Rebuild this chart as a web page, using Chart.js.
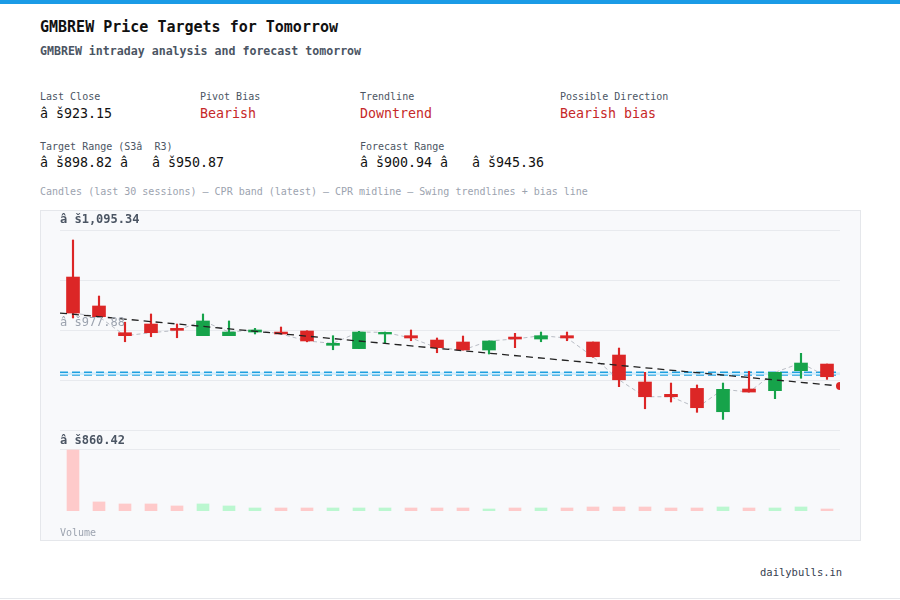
<!DOCTYPE html>
<html><head><meta charset="utf-8">
<script src="https://cdn.jsdelivr.net/npm/chart.js@4"></script>
<style>
body{margin:0;background:#fff;font-family:"DejaVu Sans Mono",monospace;width:900px;height:600px;position:relative;overflow:hidden}
.t{position:absolute;white-space:pre}
.lab{font-size:10px;color:#4b5563}
.val{font-size:13.3px;color:#111}
.red{color:#c62828}
</style></head><body>
<div style="position:absolute;left:0;top:0;width:900px;height:4px;background:#1a9be6"></div>
<div class="t" style="left:40px;top:18px;font-size:15px;font-weight:bold;color:#111">GMBREW Price Targets for Tomorrow</div>
<div class="t" style="left:40px;top:44px;font-size:11.6px;font-weight:bold;color:#4b5563">GMBREW intraday analysis and forecast tomorrow</div>
<div class="t lab" style="left:40px;top:91px">Last Close</div>
<div class="t val" style="left:40px;top:106px">â š923.15</div>
<div class="t lab" style="left:200px;top:91px">Pivot Bias</div>
<div class="t val red" style="left:200px;top:106px">Bearish</div>
<div class="t lab" style="left:360px;top:91px">Trendline</div>
<div class="t val red" style="left:360px;top:106px">Downtrend</div>
<div class="t lab" style="left:560px;top:91px">Possible Direction</div>
<div class="t val red" style="left:560px;top:106px">Bearish bias</div>
<div class="t lab" style="left:40px;top:141px">Target Range (S3â  R3)</div>
<div class="t val" style="left:40px;top:155px">â š898.82 â   â š950.87</div>
<div class="t lab" style="left:360px;top:141px">Forecast Range</div>
<div class="t val" style="left:360px;top:155px">â š900.94 â   â š945.36</div>
<div class="t" style="left:40px;top:186px;font-size:10px;color:#9ca3af">Candles (last 30 sessions) – CPR band (latest) – CPR midline – Swing trendlines + bias line</div>
<div style="position:absolute;left:40px;top:210px;width:819px;height:329px;border:1px solid #e5e7eb;background:#f8f9fb"></div>
<canvas id="c" style="position:absolute;left:40px;top:210px;width:820px;height:330px"></canvas>
<div class="t" style="left:60px;top:212px;font-size:12px;font-weight:bold;color:#4b5563">â š1,095.34</div>
<div class="t" style="left:60px;top:315px;font-size:12px;color:#9ca3af">â š977.88</div>
<div class="t" style="left:60px;top:433px;font-size:12px;font-weight:bold;color:#4b5563">â š860.42</div>
<div class="t" style="left:60px;top:527px;font-size:10px;color:#9ca3af">Volume</div>
<div class="t" style="left:760px;top:566px;font-size:10.5px;color:#374151">dailybulls.in</div>
<div style="position:absolute;left:0;top:598px;width:900px;height:1px;background:#e5e7eb"></div>
<script>
const labels=Array.from({length:30},(_,i)=>'S'+(i+1));
const opens =[1040.1,1006.1,974.7,984.9,979.8,971.2,971.2,975.5,975.5,976.7,959.9,956.0,973.2,971.2,966.1,963.8,954.4,969.6,967.3,971.2,963.8,948.5,916.8,902.3,909.3,881.9,908.6,906.6,930.1,937.9];
const closes=[997.8,993.5,971.2,974.7,977.5,988.5,975.5,977.9,973.2,965.0,962.2,975.5,975.1,968.5,957.1,954.4,965.0,967.3,971.2,968.5,946.5,919.4,899.5,899.5,886.6,908.2,905.0,928.2,939.1,923.0];
const highs =[1083.6,1017.8,987.0,996.7,984.9,996.7,988.5,979.8,981.4,977.0,971.2,976.3,975.5,977.9,968.5,970.8,965.0,974.0,975.5,975.5,963.8,956.7,928.2,915.6,913.3,915.6,929.4,928.2,950.5,937.9];
const lows  =[992.0,992.8,964.1,970.0,968.8,971.2,971.2,973.2,973.2,964.0,954.7,956.0,962.6,965.3,951.2,954.4,949.7,957.1,964.1,965.3,945.8,911.3,885.4,893.3,881.2,872.9,905.0,897.2,921.2,919.9];
const volumes=[60.7,9,7,7,5,7,5,3,3,3,3,3,3,3,3,3,2,3,3,3,4,4,4,3,3,4,3,3,4,2];
const cprTop=928.2, cprBottom=924.9;
const trendStart=997.8, trendEnd=912.1;
const up=opens.map((o,i)=>closes[i]>=o);
const cCol=up.map(u=>u?'#16a34a':'#dc2626');
const vCol=up.map(u=>u?'#bbf7d0':'#fecaca');
const full=[-0.5,29.5];
new Chart(document.getElementById('c'),{
 data:{labels,datasets:[
  {type:'line',xAxisID:'x2',yAxisID:'y',data:full.map(x=>({x,y:cprTop})),borderColor:'#1ea0e0',borderWidth:1.5,borderDash:[8,4],pointRadius:0,fill:'+1',backgroundColor:'rgba(186,230,253,0.6)',order:5},
  {type:'line',xAxisID:'x2',yAxisID:'y',data:full.map(x=>({x,y:cprBottom})),borderColor:'#1ea0e0',borderWidth:1.5,borderDash:[8,4],pointRadius:0,fill:false,order:5},
  {type:'bar',yAxisID:'v',data:volumes,backgroundColor:vCol,barThickness:12,grouped:false,order:6},
  {type:'line',yAxisID:'y',data:closes,borderColor:'#b8bcc4',borderWidth:1,borderDash:[4,3],pointRadius:0,order:4},
  {type:'bar',yAxisID:'y',data:lows.map((l,i)=>[l,highs[i]]),backgroundColor:cCol,barThickness:1.5,grouped:false,order:3},
  {type:'bar',yAxisID:'y',data:opens.map((o,i)=>[o,closes[i]]),backgroundColor:cCol,barThickness:13,grouped:false,order:2},
  {type:'line',xAxisID:'x2',yAxisID:'y',data:[{x:-0.5,y:trendStart},{x:29.5,y:trendEnd}],borderColor:'#222',borderWidth:1.3,borderDash:[7,5],pointRadius:[0,4],pointBackgroundColor:'#dc2626',pointBorderWidth:0,order:1}
 ]},
 options:{animation:false,responsive:false,maintainAspectRatio:false,devicePixelRatio:1,
  layout:{padding:{left:20,right:20,top:20,bottom:29}},
  plugins:{legend:{display:false},tooltip:{enabled:false}},
  scales:{
   x:{display:false,offset:true},
   x2:{type:'linear',display:false,min:-0.5,max:29.5},
   y:{min:765.3,max:1095.34,border:{display:false},ticks:{display:false},grid:{color:'#e8eaee',drawTicks:false},
      afterBuildTicks:s=>{s.ticks=[1095.34,1036.61,977.88,919.15,860.42].map(v=>({value:v}));}},
   v:{min:0,max:279.6,display:true,border:{display:false},ticks:{display:false},grid:{color:'#e8eaee',drawTicks:false},
      afterBuildTicks:s=>{s.ticks=[{value:60.7}];}}
  }}
});
</script></body></html>
